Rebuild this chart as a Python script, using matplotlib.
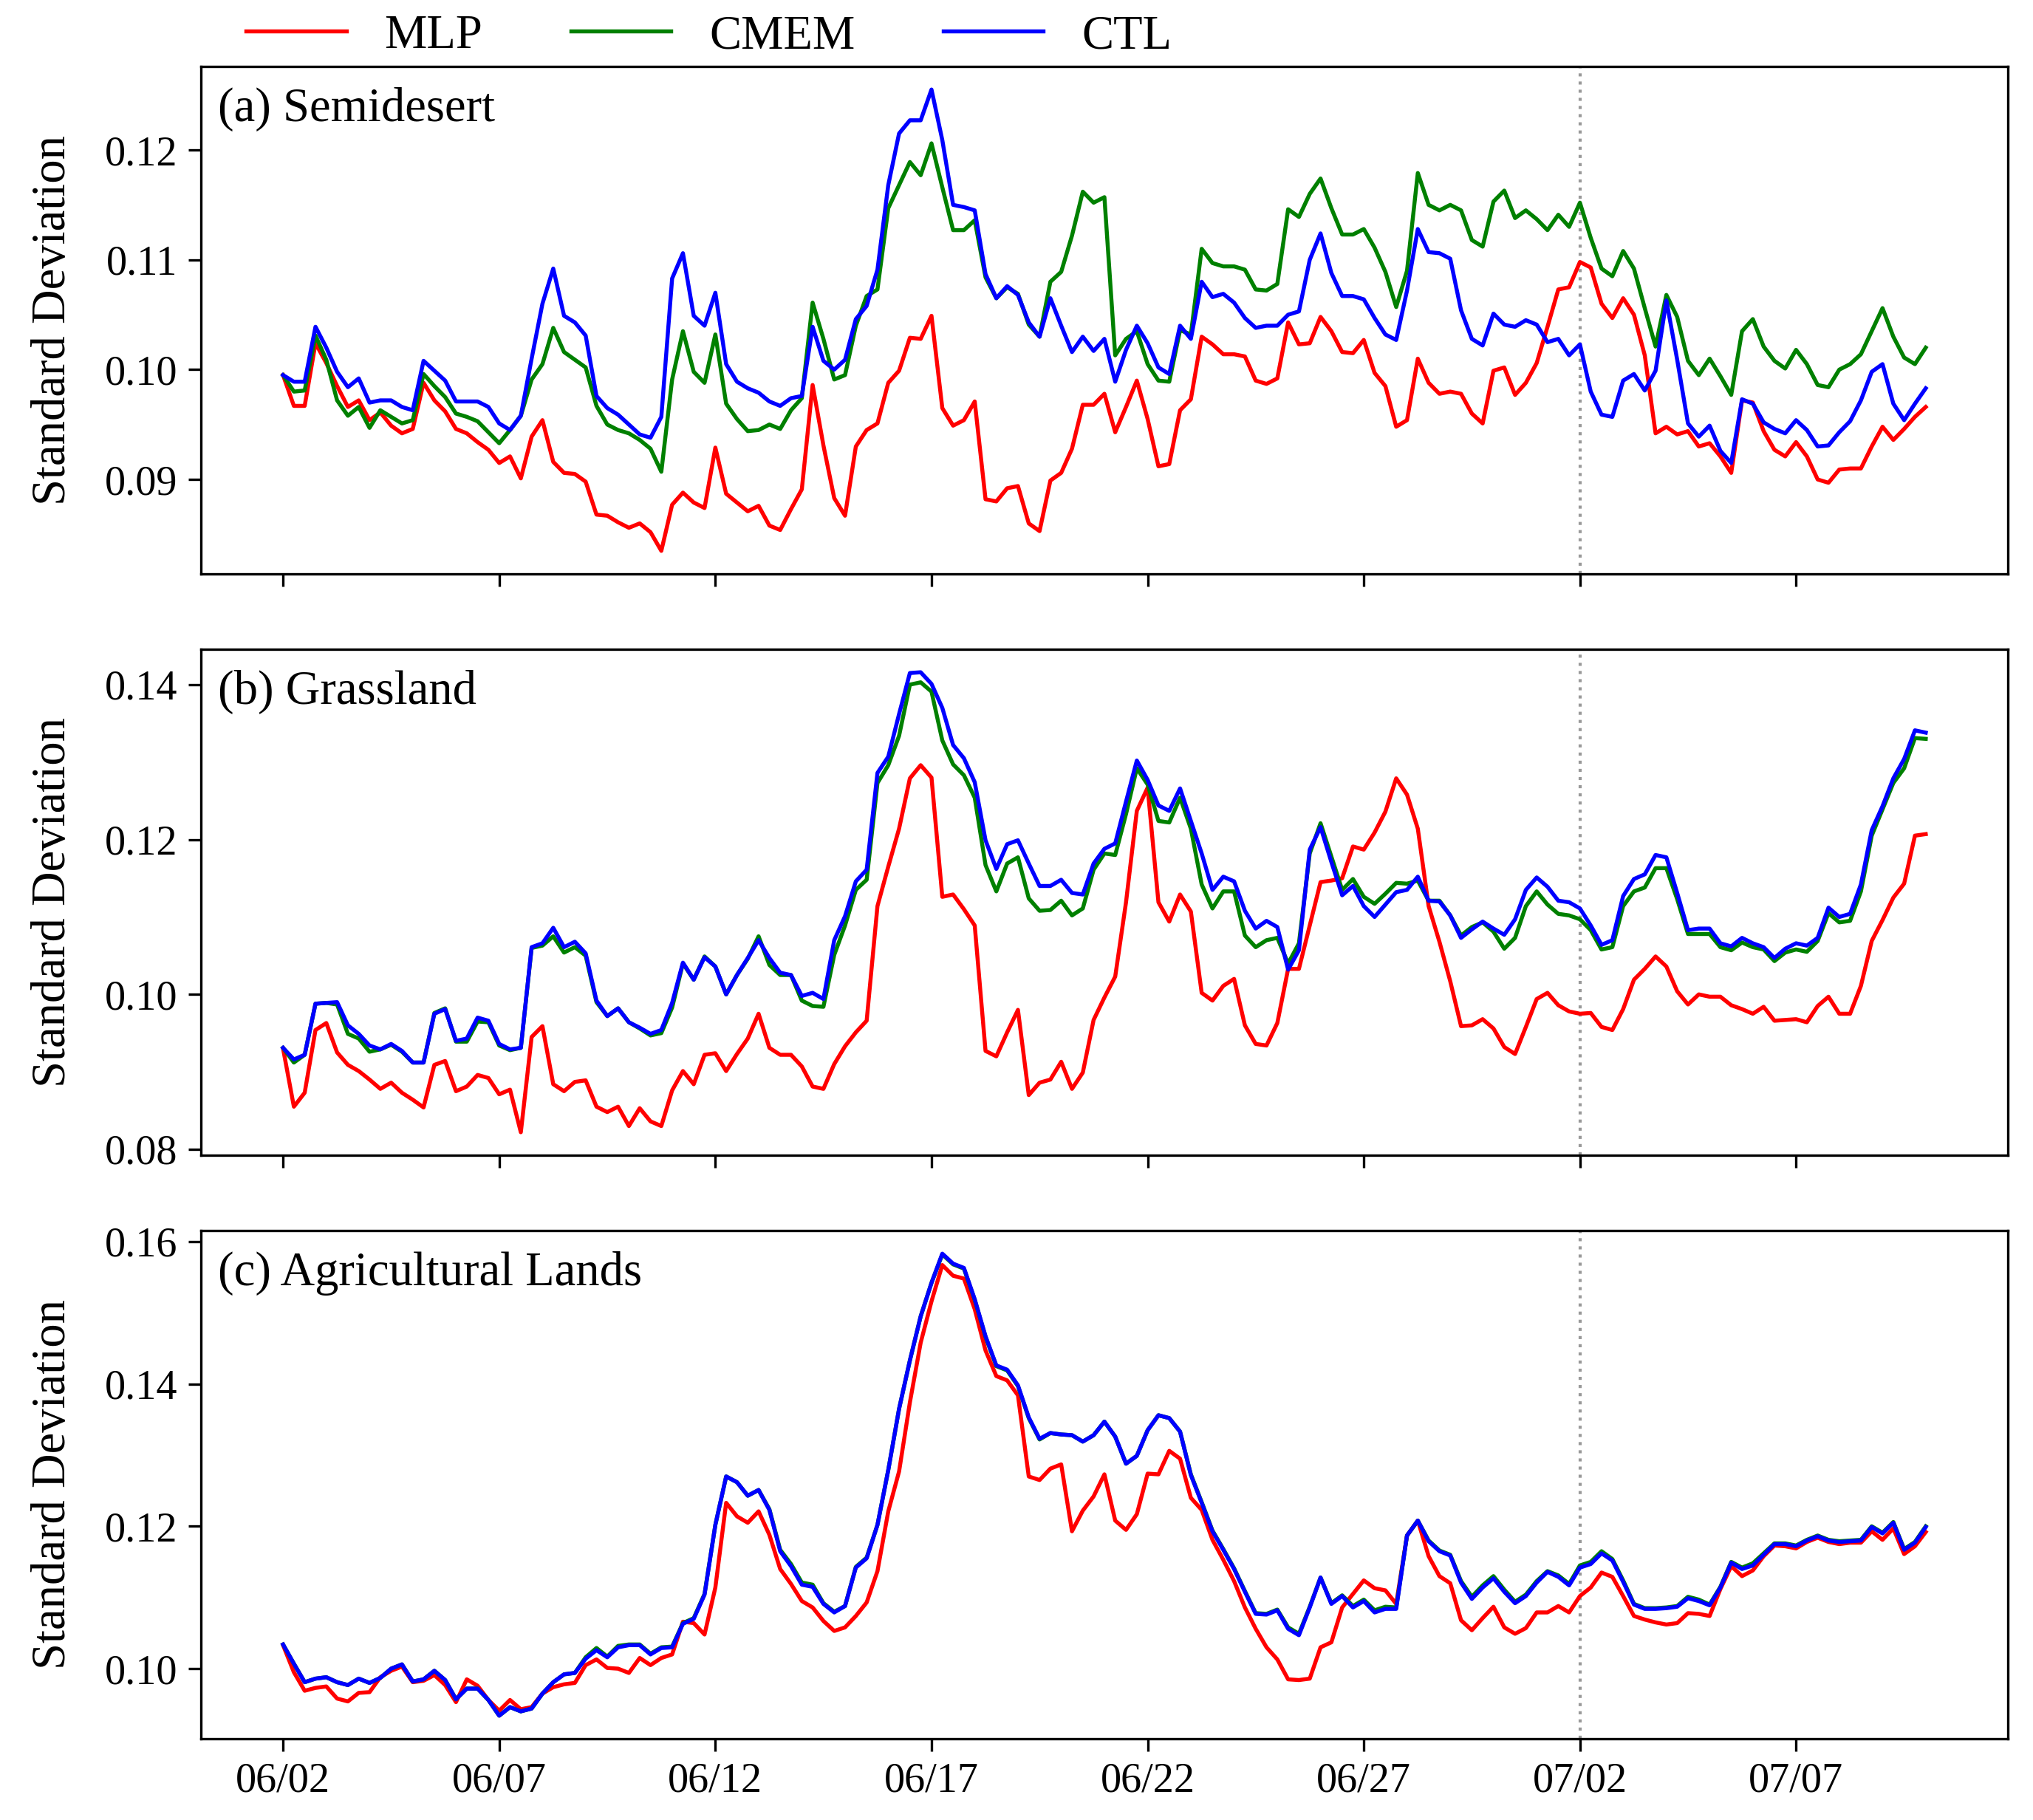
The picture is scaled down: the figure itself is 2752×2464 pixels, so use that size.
import numpy as np
import pandas as pd
import matplotlib
matplotlib.use("Agg")
import matplotlib.pyplot as plt
import matplotlib.dates as mdates

plt.rcParams['font.family'] = ['Liberation Serif', 'DejaVu Serif']
plt.rcParams['mathtext.fontset'] = 'stix'

# ---------------- data (6-hourly, 06/02 00:00 -> 07/10 00:00) ----------------
start_date = '2023-06-02'
n_points = 153
series_names = ['MLP', 'CMEM', 'CTL']
series_colors = ['red', 'green', 'blue']
panel_titles = ['(a) Semidesert', '(b) Grassland', '(c) Agricultural Lands']
y_label = 'Standard Deviation'
xtick_labels = ['06/02', '06/07', '06/12', '06/17', '06/22', '06/27', '07/02', '07/07']
split_date = '2023-07-02'

yticks_a = [0.09, 0.10, 0.11, 0.12]
yticks_b = [0.08, 0.10, 0.12, 0.14]
yticks_c = [0.10, 0.12, 0.14, 0.16]

a_mlp = [
    0.0995, 0.0967, 0.0967, 0.1024, 0.1006, 0.0985, 0.0966, 0.0972, 0.0954, 0.0961,
    0.0949, 0.0942, 0.0946, 0.0988, 0.0972, 0.0962, 0.0946, 0.0942, 0.0934, 0.0927,
    0.0915, 0.0921, 0.0901, 0.0939, 0.0954, 0.0916, 0.0906, 0.0905, 0.0898, 0.0868,
    0.0867, 0.0861, 0.0856, 0.0860, 0.0852, 0.0835, 0.0877, 0.0888, 0.0879, 0.0874,
    0.0929, 0.0887, 0.0879, 0.0871, 0.0876, 0.0858, 0.0854, 0.0873, 0.0891, 0.0986,
    0.0931, 0.0883,
    0.0867, 0.0930, 0.0945, 0.0951, 0.0988, 0.0999, 0.1029, 0.1028,
    0.1049, 0.0965, 0.0949, 0.0954, 0.0971, 0.0882, 0.0880, 0.0892, 0.0894, 0.0860,
    0.0853, 0.0899, 0.0906, 0.0928, 0.0968, 0.0968, 0.0978, 0.0943, 0.0966, 0.0990,
    0.0955, 0.0912, 0.0914, 0.0963, 0.0973, 0.1030, 0.1023, 0.1014, 0.1014, 0.1012,
    0.0990, 0.0987, 0.0992, 0.1043, 0.1023, 0.1024, 0.1048, 0.1035, 0.1016, 0.1015,
    0.1027, 0.0997, 0.0985,
    0.0948, 0.0954, 0.1010, 0.0988, 0.0978, 0.0980, 0.0978,
    0.0960, 0.0951, 0.0999, 0.1002, 0.0977, 0.0988, 0.1006, 0.1039, 0.1073, 0.1075,
    0.1098, 0.1093, 0.1060, 0.1047, 0.1065, 0.1050, 0.1013, 0.0942, 0.0948, 0.0941,
    0.0944, 0.0930, 0.0933, 0.0921, 0.0906, 0.0972, 0.0970, 0.0944, 0.0927, 0.0921,
    0.0934, 0.0921, 0.0900, 0.0897, 0.0909, 0.0910, 0.0910, 0.0930, 0.0948, 0.0936,
    0.0946, 0.0957, 0.0966]

a_cmem = [
    0.0995, 0.0980, 0.0981, 0.1031, 0.1009, 0.0972, 0.0958, 0.0966, 0.0947, 0.0963,
    0.0957, 0.0951, 0.0954, 0.0996, 0.0985, 0.0975, 0.0960, 0.0957, 0.0953, 0.0943,
    0.0933, 0.0945, 0.0958, 0.0991, 0.1005, 0.1038, 0.1016, 0.1009, 0.1002, 0.0967,
    0.0950, 0.0945, 0.0942, 0.0936, 0.0928, 0.0907, 0.0991, 0.1035, 0.0998, 0.0988,
    0.1032, 0.0969, 0.0955, 0.0944, 0.0945, 0.0950, 0.0946, 0.0963, 0.0974, 0.1061,
    0.1028, 0.0991,
    0.0995, 0.1040, 0.1067, 0.1073, 0.1147, 0.1168, 0.1189, 0.1177,
    0.1206, 0.1166, 0.1127, 0.1127, 0.1136, 0.1084, 0.1065, 0.1075, 0.1069, 0.1041,
    0.1030, 0.1080, 0.1089, 0.1122, 0.1162, 0.1152, 0.1157, 0.1013, 0.1028, 0.1035,
    0.1005, 0.0990, 0.0989, 0.1036, 0.1032, 0.1110, 0.1097, 0.1094, 0.1094, 0.1091,
    0.1073, 0.1072, 0.1078, 0.1146, 0.1139, 0.1160, 0.1174, 0.1147, 0.1123, 0.1123,
    0.1128, 0.1111, 0.1089,
    0.1057, 0.1090, 0.1179, 0.1150, 0.1145, 0.1150, 0.1145,
    0.1118, 0.1112, 0.1153, 0.1163, 0.1138, 0.1145, 0.1137, 0.1127, 0.1141, 0.1130,
    0.1152, 0.1120, 0.1092, 0.1085, 0.1108, 0.1092, 0.1056, 0.1021, 0.1068, 0.1048,
    0.1008, 0.0995, 0.1010, 0.0994, 0.0977, 0.1035, 0.1046, 0.1021, 0.1008, 0.1001,
    0.1018, 0.1005, 0.0986, 0.0984, 0.1000, 0.1005, 0.1014, 0.1035, 0.1056, 0.1030,
    0.1011, 0.1005, 0.1020]

a_ctl = [
    0.0995, 0.0989, 0.0989, 0.1039, 0.1020, 0.0998, 0.0984, 0.0992, 0.0970, 0.0972,
    0.0972, 0.0966, 0.0963, 0.1008, 0.0999, 0.0990, 0.0971, 0.0971, 0.0971, 0.0966,
    0.0951, 0.0945, 0.0958, 0.1010, 0.1060, 0.1092, 0.1049, 0.1043, 0.1031, 0.0976,
    0.0965, 0.0959, 0.0950, 0.0941, 0.0938, 0.0957, 0.1083, 0.1106, 0.1049, 0.1040,
    0.1070, 0.1005, 0.0989, 0.0983, 0.0979, 0.0971, 0.0967, 0.0974, 0.0976, 0.1039,
    0.1008, 0.1000,
    0.1009, 0.1046, 0.1058, 0.1091, 0.1168, 0.1215, 0.1227, 0.1227,
    0.1255, 0.1209, 0.1150, 0.1148, 0.1145, 0.1087, 0.1065, 0.1076, 0.1068, 0.1043,
    0.1030, 0.1065, 0.1040, 0.1016, 0.1030, 0.1017, 0.1028, 0.0989, 0.1018, 0.1040,
    0.1024, 0.1002, 0.0996, 0.1040, 0.1028, 0.1080, 0.1066, 0.1069, 0.1061, 0.1047,
    0.1038, 0.1040, 0.1040, 0.1050, 0.1053, 0.1100, 0.1124, 0.1088, 0.1067, 0.1067,
    0.1064, 0.1047, 0.1032,
    0.1027, 0.1072, 0.1128, 0.1107, 0.1106, 0.1101, 0.1054,
    0.1028, 0.1022, 0.1051, 0.1041, 0.1039, 0.1045, 0.1041, 0.1025, 0.1028, 0.1013,
    0.1023, 0.0980, 0.0959, 0.0957, 0.0990, 0.0996, 0.0981, 0.0999, 0.1063, 0.1009,
    0.0951, 0.0939, 0.0949, 0.0926, 0.0915, 0.0973, 0.0969, 0.0952, 0.0946, 0.0942,
    0.0954, 0.0945, 0.0930, 0.0931, 0.0943, 0.0953, 0.0972, 0.0998, 0.1005, 0.0969,
    0.0954, 0.0969, 0.0983]

b_mlp = [
    0.0930, 0.0855, 0.0873, 0.0954, 0.0963, 0.0925, 0.0909, 0.0901, 0.0890, 0.0878,
    0.0886, 0.0873, 0.0864, 0.0854, 0.0909, 0.0914, 0.0875, 0.0881, 0.0896, 0.0892,
    0.0871, 0.0877, 0.0822, 0.0945, 0.0959, 0.0884, 0.0875, 0.0887, 0.0889, 0.0855,
    0.0848, 0.0855, 0.0830, 0.0853, 0.0836, 0.0830, 0.0876, 0.0901, 0.0884, 0.0922,
    0.0924, 0.0901, 0.0923, 0.0943, 0.0975, 0.0931, 0.0922, 0.0922, 0.0907, 0.0881,
    0.0878, 0.0910,
    0.0933, 0.0951, 0.0966, 0.1114, 0.1165, 0.1214, 0.1279, 0.1296,
    0.1280, 0.1126, 0.1129, 0.1110, 0.1089, 0.0927, 0.0920, 0.0951, 0.0980, 0.0870,
    0.0886, 0.0890, 0.0913, 0.0878, 0.0899, 0.0967, 0.0996, 0.1023, 0.1119, 0.1237,
    0.1267, 0.1119, 0.1094, 0.1129, 0.1107, 0.1002, 0.0992, 0.1011, 0.1020, 0.0960,
    0.0936, 0.0934, 0.0963, 0.1033, 0.1033, 0.1089, 0.1145, 0.1147, 0.1150, 0.1191,
    0.1187, 0.1209, 0.1236,
    0.1279, 0.1258, 0.1214, 0.1114, 0.1068, 0.1017, 0.0959,
    0.0960, 0.0968, 0.0956, 0.0932, 0.0923, 0.0958, 0.0994, 0.1002, 0.0986, 0.0978,
    0.0975, 0.0976, 0.0958, 0.0954, 0.0981, 0.1019, 0.1033, 0.1049, 0.1036, 0.1004,
    0.0987, 0.1000, 0.0997, 0.0997, 0.0986, 0.0981, 0.0975, 0.0984, 0.0966, 0.0967,
    0.0968, 0.0964, 0.0985, 0.0997, 0.0975, 0.0975, 0.1011, 0.1069, 0.1096, 0.1125,
    0.1143, 0.1205, 0.1207]

b_cmem = [
    0.0931, 0.0912, 0.0922, 0.0988, 0.0989, 0.0987, 0.0949, 0.0943, 0.0926, 0.0929,
    0.0935, 0.0926, 0.0912, 0.0912, 0.0976, 0.0982, 0.0939, 0.0939, 0.0965, 0.0964,
    0.0934, 0.0928, 0.0931, 0.1060, 0.1063, 0.1075, 0.1054, 0.1061, 0.1050, 0.0990,
    0.0972, 0.0982, 0.0964, 0.0956, 0.0947, 0.0950, 0.0983, 0.1040, 0.1019, 0.1049,
    0.1036, 0.1000, 0.1025, 0.1046, 0.1075, 0.1038, 0.1025, 0.1025, 0.0992, 0.0985,
    0.0984, 0.1051,
    0.1089, 0.1135, 0.1148, 0.1273, 0.1296, 0.1334, 0.1400, 0.1403,
    0.1391, 0.1328, 0.1297, 0.1283, 0.1254, 0.1167, 0.1133, 0.1169, 0.1177, 0.1124,
    0.1108, 0.1109, 0.1121, 0.1102, 0.1111, 0.1161, 0.1182, 0.1180, 0.1233, 0.1292,
    0.1271, 0.1224, 0.1222, 0.1254, 0.1214, 0.1142, 0.1111, 0.1133, 0.1133, 0.1076,
    0.1061, 0.1070, 0.1073, 0.1040, 0.1066, 0.1182, 0.1221, 0.1178, 0.1135, 0.1149,
    0.1126, 0.1117, 0.1130,
    0.1144, 0.1143, 0.1147, 0.1121, 0.1121, 0.1102, 0.1076,
    0.1087, 0.1093, 0.1081, 0.1059, 0.1073, 0.1114, 0.1133, 0.1116, 0.1104, 0.1102,
    0.1097, 0.1083, 0.1058, 0.1061, 0.1114, 0.1133, 0.1138, 0.1163, 0.1163, 0.1123,
    0.1078, 0.1078, 0.1078, 0.1061, 0.1057, 0.1067, 0.1061, 0.1058, 0.1043, 0.1054,
    0.1058, 0.1055, 0.1069, 0.1105, 0.1093, 0.1095, 0.1133, 0.1205, 0.1239, 0.1273,
    0.1292, 0.1331, 0.1330]

b_ctl = [
    0.0931, 0.0916, 0.0922, 0.0988, 0.0989, 0.0990, 0.0960, 0.0949, 0.0934, 0.0929,
    0.0936, 0.0927, 0.0912, 0.0912, 0.0975, 0.0981, 0.0940, 0.0943, 0.0970, 0.0966,
    0.0936, 0.0929, 0.0931, 0.1061, 0.1066, 0.1086, 0.1061, 0.1068, 0.1053, 0.0992,
    0.0972, 0.0982, 0.0964, 0.0957, 0.0949, 0.0954, 0.0989, 0.1041, 0.1019, 0.1048,
    0.1036, 0.1000, 0.1025, 0.1047, 0.1070, 0.1047, 0.1028, 0.1025, 0.0998, 0.1002,
    0.0994, 0.1070,
    0.1101, 0.1146, 0.1161, 0.1286, 0.1307, 0.1362, 0.1415, 0.1416,
    0.1401, 0.1370, 0.1322, 0.1305, 0.1274, 0.1199, 0.1162, 0.1194, 0.1199, 0.1169,
    0.1140, 0.1140, 0.1148, 0.1131, 0.1129, 0.1169, 0.1188, 0.1195, 0.1249, 0.1302,
    0.1277, 0.1244, 0.1237, 0.1266, 0.1224, 0.1182, 0.1135, 0.1152, 0.1146, 0.1108,
    0.1085, 0.1095, 0.1087, 0.1032, 0.1057, 0.1187, 0.1216, 0.1171, 0.1128, 0.1140,
    0.1114, 0.1100, 0.1116,
    0.1132, 0.1135, 0.1152, 0.1121, 0.1120, 0.1102, 0.1073,
    0.1084, 0.1094, 0.1085, 0.1077, 0.1097, 0.1135, 0.1151, 0.1139, 0.1121, 0.1119,
    0.1111, 0.1089, 0.1064, 0.1070, 0.1127, 0.1149, 0.1155, 0.1180, 0.1177, 0.1131,
    0.1083, 0.1085, 0.1085, 0.1066, 0.1062, 0.1073, 0.1066, 0.1061, 0.1047, 0.1059,
    0.1066, 0.1063, 0.1073, 0.1112, 0.1100, 0.1104, 0.1142, 0.1212, 0.1243, 0.1279,
    0.1304, 0.1341, 0.1338]

c_mlp = [
    0.1033, 0.0995, 0.0969, 0.0973, 0.0975, 0.0958, 0.0954, 0.0966, 0.0967, 0.0988,
    0.0997, 0.1003, 0.0981, 0.0983, 0.0991, 0.0977, 0.0953, 0.0985, 0.0976, 0.0956,
    0.0941, 0.0956, 0.0943, 0.0946, 0.0965, 0.0974, 0.0978, 0.0980, 0.1005, 0.1013,
    0.1001, 0.1000, 0.0994, 0.1015, 0.1005, 0.1015, 0.1020, 0.1066, 0.1064, 0.1048,
    0.1114, 0.1233, 0.1214, 0.1205, 0.1221, 0.1188, 0.1140, 0.1119, 0.1095, 0.1086,
    0.1067, 0.1053,
    0.1058, 0.1074, 0.1093, 0.1137, 0.1221, 0.1277, 0.1374, 0.1458,
    0.1516, 0.1567, 0.1552, 0.1548, 0.1505, 0.1447, 0.1411, 0.1405, 0.1384, 0.1270,
    0.1265, 0.1281, 0.1287, 0.1193, 0.1222, 0.1242, 0.1273, 0.1208, 0.1195, 0.1217,
    0.1274, 0.1273, 0.1306, 0.1295, 0.1240, 0.1223, 0.1181, 0.1153, 0.1123, 0.1086,
    0.1056, 0.1030, 0.1013, 0.0985, 0.0984, 0.0986, 0.1030, 0.1037, 0.1086, 0.1105,
    0.1124, 0.1113, 0.1110,
    0.1091, 0.1187, 0.1208, 0.1158, 0.1130, 0.1120, 0.1068,
    0.1054, 0.1071, 0.1087, 0.1058, 0.1049, 0.1057, 0.1079, 0.1079, 0.1088, 0.1079,
    0.1102, 0.1114, 0.1135, 0.1129, 0.1102, 0.1074, 0.1069, 0.1065, 0.1062, 0.1064,
    0.1078, 0.1077, 0.1074, 0.1112, 0.1144, 0.1130, 0.1138, 0.1158, 0.1173, 0.1172,
    0.1169, 0.1178, 0.1184, 0.1178, 0.1175, 0.1177, 0.1177, 0.1193, 0.1181, 0.1197,
    0.1161, 0.1172, 0.1192]

c_cmem = [
    0.1034, 0.1007, 0.0981, 0.0986, 0.0988, 0.0981, 0.0977, 0.0986, 0.0980, 0.0987,
    0.1000, 0.1006, 0.0982, 0.0985, 0.0997, 0.0984, 0.0957, 0.0972, 0.0972, 0.0956,
    0.0934, 0.0946, 0.0940, 0.0944, 0.0965, 0.0981, 0.0992, 0.0994, 0.1016, 0.1029,
    0.1017, 0.1032, 0.1034, 0.1034, 0.1021, 0.1030, 0.1031, 0.1064, 0.1071, 0.1105,
    0.1202, 0.1270, 0.1262, 0.1243, 0.1251, 0.1224, 0.1167, 0.1147, 0.1121, 0.1118,
    0.1092, 0.1080,
    0.1088, 0.1143, 0.1156, 0.1202, 0.1279, 0.1365, 0.1433, 0.1495,
    0.1542, 0.1582, 0.1568, 0.1562, 0.1518, 0.1466, 0.1425, 0.1419, 0.1397, 0.1352,
    0.1322, 0.1331, 0.1329, 0.1328, 0.1319, 0.1328, 0.1347, 0.1326, 0.1288, 0.1299,
    0.1335, 0.1356, 0.1352, 0.1333, 0.1273, 0.1234, 0.1194, 0.1168, 0.1141, 0.1109,
    0.1078, 0.1077, 0.1083, 0.1058, 0.1049, 0.1087, 0.1128, 0.1092, 0.1103, 0.1088,
    0.1097, 0.1082, 0.1087,
    0.1086, 0.1187, 0.1208, 0.1180, 0.1166, 0.1160, 0.1123,
    0.1101, 0.1117, 0.1130, 0.1111, 0.1094, 0.1104, 0.1123, 0.1137, 0.1131, 0.1119,
    0.1145, 0.1150, 0.1165, 0.1154, 0.1124, 0.1091, 0.1085, 0.1085, 0.1086, 0.1088,
    0.1101, 0.1097, 0.1090, 0.1115, 0.1150, 0.1142, 0.1148, 0.1162, 0.1176, 0.1176,
    0.1173, 0.1181, 0.1187, 0.1181, 0.1179, 0.1180, 0.1181, 0.1200, 0.1191, 0.1206,
    0.1168, 0.1178, 0.1200]

c_ctl = [
    0.1034, 0.1007, 0.0981, 0.0986, 0.0988, 0.0981, 0.0977, 0.0986, 0.0980, 0.0987,
    0.1000, 0.1006, 0.0982, 0.0985, 0.0997, 0.0984, 0.0957, 0.0972, 0.0972, 0.0956,
    0.0934, 0.0946, 0.0940, 0.0944, 0.0965, 0.0981, 0.0992, 0.0994, 0.1014, 0.1026,
    0.1016, 0.1030, 0.1033, 0.1033, 0.1020, 0.1029, 0.1030, 0.1063, 0.1070, 0.1104,
    0.1202, 0.1270, 0.1262, 0.1243, 0.1251, 0.1223, 0.1165, 0.1144, 0.1118, 0.1115,
    0.1091, 0.1079,
    0.1088, 0.1142, 0.1155, 0.1202, 0.1279, 0.1365, 0.1433, 0.1495,
    0.1542, 0.1583, 0.1569, 0.1563, 0.1519, 0.1467, 0.1426, 0.1420, 0.1398, 0.1353,
    0.1323, 0.1331, 0.1329, 0.1328, 0.1319, 0.1328, 0.1347, 0.1326, 0.1288, 0.1299,
    0.1335, 0.1356, 0.1352, 0.1333, 0.1272, 0.1233, 0.1193, 0.1167, 0.1140, 0.1108,
    0.1077, 0.1076, 0.1082, 0.1056, 0.1047, 0.1086, 0.1128, 0.1091, 0.1102, 0.1086,
    0.1095, 0.1079, 0.1084,
    0.1084, 0.1187, 0.1208, 0.1179, 0.1165, 0.1159, 0.1121,
    0.1098, 0.1114, 0.1127, 0.1108, 0.1092, 0.1102, 0.1121, 0.1136, 0.1129, 0.1117,
    0.1142, 0.1147, 0.1162, 0.1152, 0.1122, 0.1090, 0.1084, 0.1084, 0.1085, 0.1087,
    0.1099, 0.1095, 0.1089, 0.1114, 0.1149, 0.1140, 0.1145, 0.1160, 0.1175, 0.1175,
    0.1172, 0.1180, 0.1186, 0.1180, 0.1178, 0.1179, 0.1180, 0.1199, 0.1190, 0.1205,
    0.1167, 0.1177, 0.1199]

# ---------------- figure ----------------
W, H = 2753, 2464
DPI = 300
fig = plt.figure(figsize=(W / DPI, H / DPI), dpi=DPI)

times = pd.date_range(start_date, periods=n_points, freq='6h')
tick_dates = pd.date_range(start_date, periods=len(xtick_labels), freq='5D')

panels = [
    ([a_mlp, a_cmem, a_ctl], yticks_a),
    ([b_mlp, b_cmem, b_ctl], yticks_b),
    ([c_mlp, c_cmem, c_ctl], yticks_c),
]

left = 272 / W
width = 2446 / W
tops = [90, 879, 1666]
heights = [687, 685, 688]

axes = []
for k, (series, yt) in enumerate(panels):
    bottom = 1 - (tops[k] + heights[k]) / H
    ax = fig.add_axes([left, bottom, width, heights[k] / H])
    axes.append(ax)
    lines = []
    for vals, name, col in zip(series, series_names, series_colors):
        ln, = ax.plot(times, vals, color=col, lw=1.3, label=name)
        lines.append(ln)
    ax.axvline(pd.Timestamp(split_date), color='#999999', ls=':', lw=1.0, zorder=0)
    ax.set_xticks(tick_dates)
    if k == 2:
        ax.set_xticklabels(xtick_labels)
    else:
        ax.set_xticklabels([])
    ax.set_yticks(yt)
    ax.set_yticklabels([f'{v:.2f}' for v in yt])
    ax.tick_params(axis='both', labelsize=13.5, width=0.8, length=4)
    ax.set_ylabel(y_label, fontsize=15.5)
    ax.yaxis.set_label_coords(-0.0695, 0.5)
    ax.text(0.0095, 0.915, panel_titles[k], transform=ax.transAxes,
            fontsize=15.5, ha='left', va='center')
    for sp in ax.spines.values():
        sp.set_linewidth(0.8)

fig.legend(lines, series_names, loc='center', bbox_to_anchor=(0.3485, 0.980),
           ncol=3, frameon=False, fontsize=15.5, handlelength=2.1,
           columnspacing=1.85, handletextpad=0.8)

fig.savefig('out.png', dpi=DPI)
